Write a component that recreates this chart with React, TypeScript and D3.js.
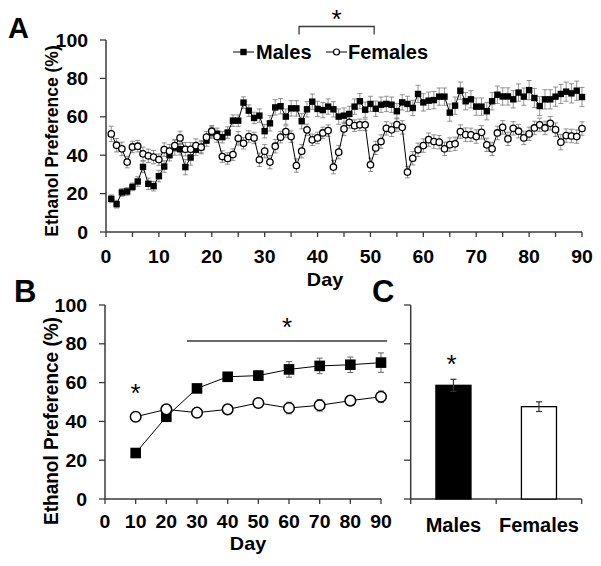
import React from 'react';
import * as d3 from 'd3';

// ---------- DATA ----------
const days = d3.range(1, 91);
const maleDaily = [
  17.3, 14.5, 20.6, 21.1, 23.5, 26.3, 33.9, 25.1, 23.9, 29.1,
  34.1, 40.0, 44.0, 43.1, 33.8, 38.8, 42.9, 44.2, 47.6, 51.8,
  51.1, 49.4, 51.8, 58.0, 58.0, 67.4, 63.2, 59.4, 60.6, 52.5,
  56.6, 64.9, 65.5, 60.1, 64.4, 64.4, 57.7, 63.9, 67.9, 64.1,
  63.5, 65.3, 63.9, 60.1, 60.6, 61.5, 65.3, 68.1, 63.7, 66.7,
  64.2, 66.3, 66.7, 66.3, 62.9, 67.5, 66.7, 64.6, 71.9, 67.5,
  68.4, 68.7, 70.5, 70.5, 62.2, 65.8, 73.6, 68.1, 69.1, 65.3,
  65.3, 62.9, 68.1, 71.5, 70.6, 70.6, 69.1, 72.6, 70.5, 73.9,
  69.8, 65.6, 69.1, 69.1, 70.5, 71.9, 73.1, 72.2, 73.6, 70.3,
];
const femaleDaily = [
  51.1, 45.2, 43.3, 36.4, 44.3, 44.7, 40.7, 39.7, 39.0, 37.7,
  42.9, 42.1, 45.0, 49.0, 43.1, 43.1, 45.0, 44.2, 49.4, 52.5,
  49.7, 39.3, 38.3, 40.3, 48.8, 46.2, 49.7, 49.0, 37.6, 42.1,
  36.4, 44.7, 49.4, 52.3, 49.7, 34.6, 42.1, 53.2, 48.0, 49.0,
  51.6, 52.8, 33.8, 41.6, 53.7, 57.1, 55.4, 55.8, 55.8, 35.0,
  43.8, 47.1, 54.0, 53.2, 55.9, 54.5, 31.2, 38.4, 42.8, 45.0,
  48.1, 47.1, 46.8, 43.3, 45.5, 45.9, 52.3, 50.7, 50.6, 49.7,
  51.9, 45.4, 43.3, 51.6, 54.5, 48.5, 54.0, 52.5, 49.0, 51.1,
  54.2, 55.8, 54.2, 56.6, 53.3, 46.8, 50.2, 50.0, 49.7, 53.9,
];
const maleDailySem = [
  2, 2, 2, 2, 2, 2.5, 3, 3, 2.5, 3,
  3, 3, 4, 3, 4, 4, 3, 3, 3, 3,
  3, 3, 3, 3, 3, 3, 3, 3, 3.5, 3.5,
  4, 4, 4, 4, 4, 4, 4, 4, 4, 4,
  4, 4, 4, 4, 4, 4, 4, 4, 4, 4,
  4, 4, 4, 4, 4, 4, 4, 4, 4.5, 4.5,
  4.5, 4.5, 4.5, 4.5, 4.5, 4.5, 4.5, 4.5, 4.5, 4.5,
  4.5, 4.5, 4.5, 4.5, 4.5, 4.5, 4.5, 4.5, 4.5, 5,
  5, 5, 5, 5, 5, 5, 5, 5, 5, 5,
];
const femaleDailySem = [
  4, 3.5, 3.5, 3, 3, 3, 3.5, 3.5, 3.5, 3,
  3.5, 3.5, 3, 3.5, 3.5, 3.5, 3.5, 3.5, 3, 3,
  3, 3, 3, 3, 3.5, 3, 3, 3, 3.5, 3.5,
  3.5, 3.5, 3, 3, 3, 3.5, 3.5, 3, 3, 3,
  3, 3, 3.5, 3.5, 3.5, 3, 3, 3, 3, 3.5,
  3.5, 3.5, 3.5, 3.5, 3.5, 3.5, 3, 3.5, 3.5, 3.5,
  3.5, 3.5, 3.5, 3.5, 3.5, 3.5, 3.5, 3.5, 3.5, 3.5,
  3.5, 3.5, 3.5, 3.5, 3.5, 3.5, 3.5, 3.5, 3.5, 3.5,
  3.5, 3.5, 3.5, 3.5, 3.5, 4, 3.5, 3.5, 3.5, 3.5,
];

const binDays = [10, 20, 30, 40, 50, 60, 70, 80, 90];
const maleBinned = [23.7, 42.4, 57.0, 63.0, 63.6, 66.8, 68.6, 69.2, 70.3];
const femaleBinned = [42.4, 46.2, 44.5, 46.2, 49.5, 46.9, 48.3, 50.7, 52.7];
const maleBinnedSem = [1.5, 2, 2, 2, 2.5, 4, 4, 4, 5];
const femaleBinnedSem = [2, 2, 2, 2, 2, 3, 3, 2.5, 3];

const groups = ['Males', 'Females'];
const groupMeans = [58.6, 47.6];
const groupSem = [3.1, 2.5];

const yTicks = [0, 20, 40, 60, 80, 100];
const xTicksA = [0, 10, 20, 30, 40, 50, 60, 70, 80, 90];
const xMinorA = d3.range(0, 91, 5);
const xTicksB = [0, 10, 20, 30, 40, 50, 60, 70, 80, 90];
const sigA = [36.5, 50.7];
const sigB = [26.7, 92];

// ---------- STYLE ----------
const FONT = '"Liberation Sans", Arial, Helvetica, sans-serif';
const AX = '#3a3a3a';

function Txt({ x, y, size, anchor = 'middle', sx = 1, sy = 1, rotate = 0, weight = 'bold', children }: any) {
  return (
    <text
      transform={`translate(${x},${y}) rotate(${rotate}) scale(${sx},${sy})`}
      fontFamily={FONT}
      fontSize={size}
      fontWeight={weight}
      textAnchor={anchor}
      fill="#000"
    >
      {children}
    </text>
  );
}

function Star({ x, y }: any) {
  return (
    <text x={x} y={y + 14} fontFamily={FONT} fontSize={26} textAnchor="middle" fill="#000">
      *
    </text>
  );
}

export default function App() {
  // Panel A
  const xA = d3.scaleLinear().domain([0, 90]).range([106, 582]);
  const yA = d3.scaleLinear().domain([0, 100]).range([232, 40]);
  const lineA = (vals: number[]) =>
    d3.line<number>().x((_, i) => xA(days[i])).y((d) => yA(d))(vals) as string;

  // Panel B
  const xB = d3.scaleLinear().domain([0, 90]).range([105, 381]);
  const yB = d3.scaleLinear().domain([0, 100]).range([499, 305]);
  const lineB = (vals: number[]) =>
    d3.line<number>().x((_, i) => xB(binDays[i])).y((d) => yB(d))(vals) as string;

  // Panel C
  const xC = d3.scaleBand<string>().domain(groups).range([410.7, 581.7]).paddingInner(0.59).paddingOuter(0.295);
  const yC = yB;
  const cTicks = [410.7, (410.7 + 581.7) / 2, 581.7];

  const tickSx = 1.08;

  return (
    <svg
      width={601}
      height={566}
      style={{ position: 'absolute', left: 0, top: 0, display: 'block', background: '#fff' }}
    >
      <rect x={0} y={0} width={601} height={566} fill="#fff" />

      {/* Panel letters */}
      <Txt x={8} y={38} size={29} anchor="start">A</Txt>
      <Txt x={14} y={302} size={31} anchor="start">B</Txt>
      <Txt x={372} y={302} size={31} anchor="start">C</Txt>

      {/* ===== Panel A ===== */}
      <g>
        <line x1={106} x2={106} y1={yA(100)} y2={yA(0)} stroke={AX} strokeWidth={1.5} />
        <line x1={106} x2={xA(90)} y1={yA(0)} y2={yA(0)} stroke={AX} strokeWidth={1.5} />
        {yTicks.map((t) => (
          <g key={'ya' + t}>
            <line x1={100} x2={106} y1={yA(t)} y2={yA(t)} stroke={AX} strokeWidth={1.3} />
            <Txt x={88} y={yA(t) + 6.5} size={18} anchor="end" sx={tickSx}>{t}</Txt>
          </g>
        ))}
        {xMinorA.map((t) => (
          <line key={'xma' + t} x1={xA(t)} x2={xA(t)} y1={yA(0)} y2={yA(0) + 5} stroke={AX} strokeWidth={1.3} />
        ))}
        {xTicksA.map((t) => (
          <Txt key={'xa' + t} x={xA(t)} y={263} size={18} sx={tickSx}>{t}</Txt>
        ))}
        <Txt x={325} y={286} size={18} sx={1.1}>Day</Txt>
        <Txt x={58} y={141} size={17.5} rotate={-90} sy={1.08}>Ethanol Preference (%)</Txt>

        {/* error bars */}
        {[{ v: maleDaily, s: maleDailySem }, { v: femaleDaily, s: femaleDailySem }].map((ser, si) =>
          ser.v.map((v, i) => {
            const x = xA(days[i]);
            const y1 = yA(v - ser.s[i]);
            const y2 = yA(v + ser.s[i]);
            return (
              <g key={'ea' + si + '-' + i} stroke="#777" strokeWidth={0.8}>
                <line x1={x} x2={x} y1={y1} y2={y2} />
                <line x1={x - 2.5} x2={x + 2.5} y1={y1} y2={y1} />
                <line x1={x - 2.5} x2={x + 2.5} y1={y2} y2={y2} />
              </g>
            );
          })
        )}
        <path d={lineA(maleDaily)} fill="none" stroke="#000" strokeWidth={1} />
        <path d={lineA(femaleDaily)} fill="none" stroke="#000" strokeWidth={1} />
        {maleDaily.map((v, i) => (
          <rect key={'ma' + i} x={xA(days[i]) - 3.2} y={yA(v) - 3.2} width={6.4} height={6.4} fill="#000" />
        ))}
        {femaleDaily.map((v, i) => (
          <circle key={'fa' + i} cx={xA(days[i])} cy={yA(v)} r={3.2} fill="#fff" stroke="#000" strokeWidth={1.3} />
        ))}

        {/* legend */}
        <line x1={233} x2={254} y1={52} y2={52} stroke="#000" strokeWidth={1} />
        <rect x={243.5 - 3.2} y={52 - 3.2} width={6.4} height={6.4} fill="#000" />
        <Txt x={256} y={59} size={20} anchor="start">Males</Txt>
        <line x1={326} x2={347} y1={52} y2={52} stroke="#000" strokeWidth={1} />
        <circle cx={336.5} cy={52} r={3} fill="#fff" stroke="#000" strokeWidth={1.2} />
        <Txt x={348} y={59} size={20} anchor="start">Females</Txt>

        {/* significance bracket */}
        <path
          d={`M${xA(sigA[0])},34.5 V26.5 H${xA(sigA[1])} V34.5`}
          fill="none"
          stroke={AX}
          strokeWidth={1.3}
        />
        <Star x={(xA(sigA[0]) + xA(sigA[1])) / 2} y={14} />
      </g>

      {/* ===== Panel B ===== */}
      <g>
        <line x1={xB(0)} x2={xB(0)} y1={yB(100)} y2={yB(0)} stroke={AX} strokeWidth={1.5} />
        <line x1={xB(0)} x2={xB(90)} y1={yB(0)} y2={yB(0)} stroke={AX} strokeWidth={1.5} />
        {yTicks.map((t) => (
          <g key={'yb' + t}>
            <line x1={xB(0) - 6} x2={xB(0)} y1={yB(t)} y2={yB(t)} stroke={AX} strokeWidth={1.3} />
            <Txt x={87} y={yB(t) + 6.5} size={18} anchor="end" sx={tickSx}>{t}</Txt>
          </g>
        ))}
        {xTicksB.map((t) => (
          <g key={'xb' + t}>
            <line x1={xB(t)} x2={xB(t)} y1={yB(0)} y2={yB(0) + 5} stroke={AX} strokeWidth={1.3} />
            <Txt x={xB(t)} y={528} size={18} sx={tickSx}>{t}</Txt>
          </g>
        ))}
        <Txt x={(xB(0) + xB(90)) / 2 + 5} y={550} size={18} sx={1.1}>Day</Txt>
        <Txt x={58} y={421} size={19} rotate={-90} sy={1.05}>Ethanol Preference (%)</Txt>

        {[{ v: maleBinned, s: maleBinnedSem }, { v: femaleBinned, s: femaleBinnedSem }].map((ser, si) =>
          ser.v.map((v, i) => {
            const x = xB(binDays[i]);
            const y1 = yB(v - ser.s[i]);
            const y2 = yB(v + ser.s[i]);
            return (
              <g key={'eb' + si + '-' + i} stroke="#666" strokeWidth={1}>
                <line x1={x} x2={x} y1={y1} y2={y2} />
                <line x1={x - 3} x2={x + 3} y1={y1} y2={y1} />
                <line x1={x - 3} x2={x + 3} y1={y2} y2={y2} />
              </g>
            );
          })
        )}
        <path d={lineB(maleBinned)} fill="none" stroke="#000" strokeWidth={1} />
        <path d={lineB(femaleBinned)} fill="none" stroke="#000" strokeWidth={1} />
        {maleBinned.map((v, i) => (
          <rect key={'mb' + i} x={xB(binDays[i]) - 5.3} y={yB(v) - 5.3} width={10.6} height={10.6} fill="#000" />
        ))}
        {femaleBinned.map((v, i) => (
          <circle key={'fb' + i} cx={xB(binDays[i])} cy={yB(v)} r={5.3} fill="#fff" stroke="#000" strokeWidth={1.5} />
        ))}

        <line x1={xB(sigB[0])} x2={xB(sigB[1])} y1={341} y2={341} stroke={AX} strokeWidth={1.5} />
        <Star x={(xB(sigB[0]) + xB(sigB[1])) / 2} y={322} />
        <Star x={xB(binDays[0])} y={388} />
      </g>

      {/* ===== Panel C ===== */}
      <g>
        <line x1={410.7} x2={410.7} y1={yC(100)} y2={yC(0)} stroke={AX} strokeWidth={1.5} />
        <line x1={410.7} x2={581.7} y1={yC(0)} y2={yC(0)} stroke={AX} strokeWidth={1.5} />
        {yTicks.map((t) => (
          <line key={'yc' + t} x1={404} x2={410.7} y1={yC(t)} y2={yC(t)} stroke={AX} strokeWidth={1.3} />
        ))}
        {cTicks.map((t, i) => (
          <line key={'xc' + i} x1={t} x2={t} y1={yC(0)} y2={yC(0) + 5} stroke={AX} strokeWidth={1.3} />
        ))}
        {groups.map((g, i) => {
          const x = xC(g) as number;
          const w = xC.bandwidth();
          const cx = x + w / 2;
          return (
            <g key={'bar' + g}>
              <rect
                x={x}
                y={yC(groupMeans[i])}
                width={w}
                height={yC(0) - yC(groupMeans[i])}
                fill={i === 0 ? '#000' : '#fff'}
                stroke="#000"
                strokeWidth={1.3}
              />
              <g stroke="#333" strokeWidth={1.2}>
                <line x1={cx} x2={cx} y1={yC(groupMeans[i] - groupSem[i])} y2={yC(groupMeans[i] + groupSem[i])} />
                <line x1={cx - 3} x2={cx + 3} y1={yC(groupMeans[i] + groupSem[i])} y2={yC(groupMeans[i] + groupSem[i])} />
                <line x1={cx - 3} x2={cx + 3} y1={yC(groupMeans[i] - groupSem[i])} y2={yC(groupMeans[i] - groupSem[i])} />
              </g>
              <Txt x={cx} y={532} size={20}>{g}</Txt>
            </g>
          );
        })}
        <Star x={(xC('Males') as number) + xC.bandwidth() / 2 - 2} y={359} />
      </g>
    </svg>
  );
}
